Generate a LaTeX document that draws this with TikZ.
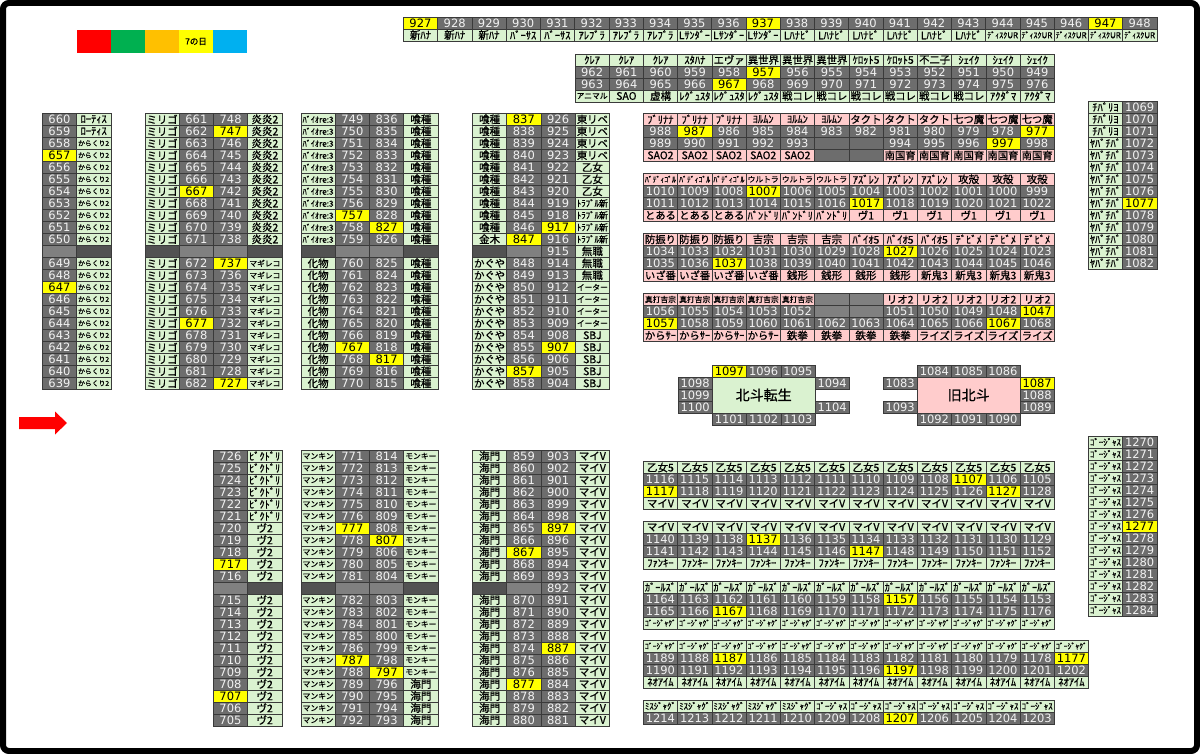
\documentclass[tikz,border=0pt]{standalone}
\usepackage{fontspec}
\usepackage{graphicx}
\newfontfamily\jpf[FakeBold=0.8]{Noto Sans CJK JP}
\newfontfamily\numf{DejaVu Sans}
\definecolor{gnum}{HTML}{6D6D6D}
\definecolor{glight}{HTML}{808080}
\definecolor{gdark}{HTML}{525252}
\definecolor{lgreen}{HTML}{DAF2D0}
\definecolor{lpink}{HTML}{FFCCCC}
\definecolor{yelw}{HTML}{FFFF00}
\definecolor{cellline}{HTML}{3A3A3A}
\definecolor{numtext}{HTML}{F2F2F2}
\definecolor{lgred}{HTML}{FF0000}
\definecolor{lggreen}{HTML}{00B050}
\definecolor{lgorange}{HTML}{FFC000}
\definecolor{lgblue}{HTML}{00B0F0}
\newsavebox\fitbox
\newcommand\fitw[1]{\sbox\fitbox{#1}\ifdim\wd\fitbox>31pt\resizebox{31pt}{!}{\usebox\fitbox}\else\usebox\fitbox\fi}
\newcounter{cellno}
\def\mkY{Y}\def\mkE{E}\def\mkL{L}\def\mkD{D}
\tikzset{
 cell/.style={draw=cellline, line width=0.6pt, inner sep=0pt, outer sep=0pt, anchor=north west},
 num/.style={fill=gnum, text=numtext, font=\numf\fontsize{11.5}{12}\selectfont},
 yelc/.style={fill=yelw, text=black, font=\numf\fontsize{11.5}{12}\selectfont},
 lab/.style={fill=lgreen, text=black, font=\jpf\fontsize{10.5}{11}\selectfont},
 pnk/.style={fill=lpink, text=black, font=\jpf\fontsize{10.5}{11}\selectfont},
 emp/.style={fill=gnum},
 sepl/.style={fill=glight},
 sepd/.style={fill=gdark},
 legendbox/.style={inner sep=0pt, outer sep=0pt, anchor=north west, minimum width=34pt, minimum height=23pt},
 bigbox/.style={cell, minimum width=102.75pt, minimum height=36pt, font=\jpf\fontsize{14}{14}\selectfont},
}
\newcommand\putcell[6]{\stepcounter{cellno}%
 \node[cell,#5,minimum width=#3pt,minimum height=#4pt] (c\arabic{cellno}) at (#1,#2) {#6};}
\newcommand\cellrow[8]{%
 \foreach \t/\s [count=\i from 0] in {#8}{%
   \pgfmathsetmacro\cx{#1+\i*#3}%
   \pgfmathsetmacro\cy{#2+\i*#4}%
   \edef\tmpS{\s}%
   \ifx\tmpS\mkY \putcell{\cx}{\cy}{#5}{#6}{yelc}{\fitw{\t}}%
   \else\ifx\tmpS\mkE \putcell{\cx}{\cy}{#5}{#6}{emp}{}%
   \else\ifx\tmpS\mkL \putcell{\cx}{\cy}{#5}{#6}{sepl}{}%
   \else\ifx\tmpS\mkD \putcell{\cx}{\cy}{#5}{#6}{sepd}{}%
   \else \putcell{\cx}{\cy}{#5}{#6}{#7}{\fitw{\t}}%
   \fi\fi\fi\fi}}
\newcommand\hrow[4]{\cellrow{#1}{#2}{34.25}{0}{34.25}{12}{#3}{#4}}
\newcommand\vrow[4]{\cellrow{#1}{#2}{0}{12}{34.25}{12}{#3}{#4}}
\begin{document}
\begin{tikzpicture}[x=1pt,y=-1pt]
\useasboundingbox (0,0) rectangle (1200,754);
\fill[white] (0,0) rectangle (1200,754);
% legend
\node[legendbox, fill=lgred] (lg1) at (77,30) {};
\node[legendbox, fill=lggreen] (lg2) at (111,30) {};
\node[legendbox, fill=lgorange] (lg3) at (145,30) {};
\node[legendbox, fill=yelw, font=\jpf\fontsize{8.5}{8.5}\selectfont] (lg4) at (179,30) {7の日};
\node[legendbox, fill=lgblue] (lg5) at (213,30) {};
% entrance arrow
\fill[lgred] (19,417) -- (55,417) -- (55,411.5) -- (67,423) -- (55,434.5) -- (55,429) -- (19,429) -- cycle;
% top row
\hrow{403.3}{17}{num}{927/Y,928,929,930,931,932,933,934,935,936,937/Y,938,939,940,941,942,943,944,945,946,947/Y,948}
\hrow{403.3}{29}{lab}{新ﾊﾅ,新ﾊﾅ,新ﾊﾅ,ﾊﾞｰｻｽ,ﾊﾞｰｻｽ,ｱﾚﾌﾞﾗ,ｱﾚﾌﾞﾗ,ｱﾚﾌﾞﾗ,Lｻﾝﾀﾞｰ,Lｻﾝﾀﾞｰ,Lｻﾝﾀﾞｰ,Lﾊﾅﾋﾞ,Lﾊﾅﾋﾞ,Lﾊﾅﾋﾞ,Lﾊﾅﾋﾞ,Lﾊﾅﾋﾞ,Lﾊﾅﾋﾞ,ﾃﾞｨｽｸUR,ﾃﾞｨｽｸUR,ﾃﾞｨｽｸUR,ﾃﾞｨｽｸUR,ﾃﾞｨｽｸUR}
% second top block
\hrow{575}{54}{lab}{ｸﾚｱ,ｸﾚｱ,ｸﾚｱ,ｽﾀﾊﾅ,エヴァ,異世界,異世界,異世界,ｹﾛｯﾄ5,ｹﾛｯﾄ5,不二子,ｼｪｲｸ,ｼｪｲｸ,ｼｪｲｸ}
\hrow{575}{66}{num}{962,961,960,959,958,957/Y,956,955,954,953,952,951,950,949}
\hrow{575}{78}{num}{963,964,965,966,967/Y,968,969,970,971,972,973,974,975,976}
\hrow{575}{90}{lab}{アニマル,SAO,虚構,ﾚｸﾞｭｽﾀ,ﾚｸﾞｭｽﾀ,ﾚｸﾞｭｽﾀ,戦コレ,戦コレ,戦コレ,戦コレ,戦コレ,戦コレ,ｱｸﾀﾞﾏ,ｱｸﾀﾞﾏ}
% column A
\vrow{42.3}{113.3}{num}{660,659,658,657/Y,656,655,654,653,652,651,650,x/L,649,648,647/Y,646,645,644,643,642,641,640,639}
\vrow{76.55}{113.3}{lab}{ﾛｰﾃｨｽ,ﾛｰﾃｨｽ,からくり2,からくり2,からくり2,からくり2,からくり2,からくり2,からくり2,からくり2,からくり2,x/D,からくり2,からくり2,からくり2,からくり2,からくり2,からくり2,からくり2,からくり2,からくり2,からくり2,からくり2}
% column B
\vrow{145}{113.3}{lab}{ミリゴ,ミリゴ,ミリゴ,ミリゴ,ミリゴ,ミリゴ,ミリゴ,ミリゴ,ミリゴ,ミリゴ,ミリゴ,x/D,ミリゴ,ミリゴ,ミリゴ,ミリゴ,ミリゴ,ミリゴ,ミリゴ,ミリゴ,ミリゴ,ミリゴ,ミリゴ}
\vrow{179.25}{113.3}{num}{661,662,663,664,665,666,667/Y,668,669,670,671,x/L,672,673,674,675,676,677/Y,678,679,680,681,682}
\vrow{213.5}{113.3}{num}{748,747/Y,746,745,744,743,742,741,740,739,738,x/L,737/Y,736,735,734,733,732,731,730,729,728,727/Y}
\vrow{247.75}{113.3}{lab}{炎炎2,炎炎2,炎炎2,炎炎2,炎炎2,炎炎2,炎炎2,炎炎2,炎炎2,炎炎2,炎炎2,x/D,マギレコ,マギレコ,マギレコ,マギレコ,マギレコ,マギレコ,マギレコ,マギレコ,マギレコ,マギレコ,マギレコ}
% column C
\vrow{301}{113.3}{lab}{ﾊﾞｲｵre:3,ﾊﾞｲｵre:3,ﾊﾞｲｵre:3,ﾊﾞｲｵre:3,ﾊﾞｲｵre:3,ﾊﾞｲｵre:3,ﾊﾞｲｵre:3,ﾊﾞｲｵre:3,ﾊﾞｲｵre:3,ﾊﾞｲｵre:3,ﾊﾞｲｵre:3,x/D,化物,化物,化物,化物,化物,化物,化物,化物,化物,化物,化物}
\vrow{335.25}{113.3}{num}{749,750,751,752,753,754,755,756,757/Y,758,759,x/L,760,761,762,763,764,765,766,767/Y,768,769,770}
\vrow{369.5}{113.3}{num}{836,835,834,833,832,831,830,829,828,827/Y,826,x/L,825,824,823,822,821,820,819,818,817/Y,816,815}
\vrow{403.75}{113.3}{lab}{喰種,喰種,喰種,喰種,喰種,喰種,喰種,喰種,喰種,喰種,喰種,x/D,喰種,喰種,喰種,喰種,喰種,喰種,喰種,喰種,喰種,喰種,喰種}
% column D
\vrow{472.5}{113.3}{lab}{喰種,喰種,喰種,喰種,喰種,喰種,喰種,喰種,喰種,喰種,金木,x/D,かぐや,かぐや,かぐや,かぐや,かぐや,かぐや,かぐや,かぐや,かぐや,かぐや,かぐや}
\vrow{506.75}{113.3}{num}{837/Y,838,839,840,841,842,843,844,845,846,847/Y,x/L,848,849,850,851,852,853,854,855,856,857/Y,858}
\vrow{541}{113.3}{num}{926,925,924,923,922,921,920,919,918,917/Y,916,915,914,913,912,911,910,909,908,907/Y,906,905,904}
\vrow{575.25}{113.3}{lab}{東リベ,東リベ,東リベ,東リベ,乙女,乙女,乙女,ﾄﾗﾌﾞﾙ新,ﾄﾗﾌﾞﾙ新,ﾄﾗﾌﾞﾙ新,ﾄﾗﾌﾞﾙ新,無職,無職,無職,イーター,イーター,イーター,イーター,SBJ,SBJ,SBJ,SBJ,SBJ}
% pink blocks
\hrow{643.3}{113.3}{pnk}{ﾌﾞﾘﾅﾅ,ﾌﾞﾘﾅﾅ,ﾌﾞﾘﾅﾅ,ﾖﾙﾑﾝ,ﾖﾙﾑﾝ,ﾖﾙﾑﾝ,タクト,タクト,タクト,七つ魔,七つ魔,七つ魔}
\hrow{643.3}{125.3}{num}{988,987/Y,986,985,984,983,982,981,980,979,978,977/Y}
\hrow{643.3}{137.3}{num}{989,990,991,992,993,x/E,x/E,994,995,996,997/Y,998}
\hrow{643.3}{149.3}{pnk}{SAO2,SAO2,SAO2,SAO2,SAO2,x/E,x/E,南国育,南国育,南国育,南国育,南国育}
\hrow{643.3}{173.3}{pnk}{ﾊﾞﾃﾞｨｺﾞﾙ,ﾊﾞﾃﾞｨｺﾞﾙ,ﾊﾞﾃﾞｨｺﾞﾙ,ウルトラ,ウルトラ,ウルトラ,ｱｽﾞﾚﾝ,ｱｽﾞﾚﾝ,ｱｽﾞﾚﾝ,攻殻,攻殻,攻殻}
\hrow{643.3}{185.3}{num}{1010,1009,1008,1007/Y,1006,1005,1004,1003,1002,1001,1000,999}
\hrow{643.3}{197.3}{num}{1011,1012,1013,1014,1015,1016,1017/Y,1018,1019,1020,1021,1022}
\hrow{643.3}{209.3}{pnk}{とある,とある,とある,ﾊﾞﾝﾄﾞﾘ,ﾊﾞﾝﾄﾞﾘ,ﾊﾞﾝﾄﾞﾘ,ヴ1,ヴ1,ヴ1,ヴ1,ヴ1,ヴ1}
\hrow{643.3}{233.3}{pnk}{防振り,防振り,防振り,吉宗,吉宗,吉宗,ﾊﾞｲｵ5,ﾊﾞｲｵ5,ﾊﾞｲｵ5,ﾃﾞﾋﾞﾒ,ﾃﾞﾋﾞﾒ,ﾃﾞﾋﾞﾒ}
\hrow{643.3}{245.3}{num}{1034,1033,1032,1031,1030,1029,1028,1027/Y,1026,1025,1024,1023}
\hrow{643.3}{257.3}{num}{1035,1036,1037/Y,1038,1039,1040,1041,1042,1043,1044,1045,1046}
\hrow{643.3}{269.3}{pnk}{いざ番,いざ番,いざ番,いざ番,銭形,銭形,銭形,銭形,新鬼3,新鬼3,新鬼3,新鬼3}
\hrow{643.3}{293.5}{pnk}{真打吉宗,真打吉宗,真打吉宗,真打吉宗,真打吉宗,x/L,x/L,リオ2,リオ2,リオ2,リオ2,リオ2}
\hrow{643.3}{305.5}{num}{1056,1055,1054,1053,1052,x/L,x/L,1051,1050,1049,1048,1047/Y}
\hrow{643.3}{317.5}{num}{1057/Y,1058,1059,1060,1061,1062,1063,1064,1065,1066,1067/Y,1068}
\hrow{643.3}{329.5}{pnk}{からｻｰ,からｻｰ,からｻｰ,からｻｰ,鉄拳,鉄拳,鉄拳,鉄拳,ライズ,ライズ,ライズ,ライズ}
% right column top
\vrow{1088.3}{101}{lab}{ﾁﾊﾞﾘﾖ,ﾁﾊﾞﾘﾖ,ﾁﾊﾞﾘﾖ,ﾔﾊﾞﾁﾊﾞ,ﾔﾊﾞﾁﾊﾞ,ﾔﾊﾞﾁﾊﾞ,ﾔﾊﾞﾁﾊﾞ,ﾔﾊﾞﾁﾊﾞ,ﾔﾊﾞﾁﾊﾞ,ﾔﾊﾞﾁﾊﾞ,ﾔﾊﾞﾁﾊﾞ,ﾔﾊﾞﾁﾊﾞ,ﾔﾊﾞﾁﾊﾞ,ﾔﾊﾞﾁﾊﾞ}
\vrow{1122.55}{101}{num}{1069,1070,1071,1072,1073,1074,1075,1076,1077/Y,1078,1079,1080,1081,1082}
% hokuto tensei island
\hrow{712.3}{365}{num}{1097/Y,1096,1095}
\vrow{678.05}{377}{num}{1098,1099,1100}
\node[bigbox, fill=lgreen] (hk1) at (712.3,377) {北斗転生};
\hrow{815.05}{377}{num}{1094}
\hrow{815.05}{401}{num}{1104}
\hrow{712.3}{413}{num}{1101,1102,1103}
% old hokuto island
\hrow{917.3}{365}{num}{1084,1085,1086}
\hrow{883.05}{377}{num}{1083}
\hrow{883.05}{401}{num}{1093}
\node[bigbox, fill=lpink] (hk2) at (917.3,377) {旧北斗};
\vrow{1020.05}{377}{num}{1087/Y,1088,1089}
\hrow{917.3}{413}{num}{1092,1091,1090}
% column E
\vrow{213.3}{450}{num}{726,725,724,723,722,721,720,719,718,717/Y,716,x/L,715,714,713,712,711,710,709,708,707/Y,706,705}
\vrow{247.55}{450}{lab}{ﾋﾞｸﾄﾞﾘ,ﾋﾞｸﾄﾞﾘ,ﾋﾞｸﾄﾞﾘ,ﾋﾞｸﾄﾞﾘ,ﾋﾞｸﾄﾞﾘ,ﾋﾞｸﾄﾞﾘ,ヴ2,ヴ2,ヴ2,ヴ2,ヴ2,x/D,ヴ2,ヴ2,ヴ2,ヴ2,ヴ2,ヴ2,ヴ2,ヴ2,ヴ2,ヴ2,ヴ2}
% column F
\vrow{301}{450}{lab}{マンキン,マンキン,マンキン,マンキン,マンキン,マンキン,マンキン,マンキン,マンキン,マンキン,マンキン,x/D,マンキン,マンキン,マンキン,マンキン,マンキン,マンキン,マンキン,マンキン,マンキン,マンキン,マンキン}
\vrow{335.25}{450}{num}{771,772,773,774,775,776,777/Y,778,779,780,781,x/L,782,783,784,785,786,787/Y,788,789,790,791,792}
\vrow{369.5}{450}{num}{814,813,812,811,810,809,808,807/Y,806,805,804,x/L,803,802,801,800,799,798,797/Y,796,795,794,793}
\vrow{403.75}{450}{lab}{モンキー,モンキー,モンキー,モンキー,モンキー,モンキー,モンキー,モンキー,モンキー,モンキー,モンキー,x/D,モンキー,モンキー,モンキー,モンキー,モンキー,モンキー,モンキー,海門,海門,海門,海門}
% column G
\vrow{472.5}{450}{lab}{海門,海門,海門,海門,海門,海門,海門,海門,海門,海門,海門,x/D,海門,海門,海門,海門,海門,海門,海門,海門,海門,海門,海門}
\vrow{506.75}{450}{num}{859,860,861,862,863,864,865,866,867/Y,868,869,x/L,870,871,872,873,874,875,876,877/Y,878,879,880}
\vrow{541}{450}{num}{903,902,901,900,899,898,897/Y,896,895,894,893,892,891,890,889,888,887/Y,886,885,884,883,882,881}
\vrow{575.25}{450}{lab}{マイV,マイV,マイV,マイV,マイV,マイV,マイV,マイV,マイV,マイV,マイV,マイV,マイV,マイV,マイV,マイV,マイV,マイV,マイV,マイV,マイV,マイV,マイV}
% green blocks
\hrow{643.3}{461.5}{lab}{乙女5,乙女5,乙女5,乙女5,乙女5,乙女5,乙女5,乙女5,乙女5,乙女5,乙女5,乙女5}
\hrow{643.3}{473.5}{num}{1116,1115,1114,1113,1112,1111,1110,1109,1108,1107/Y,1106,1105}
\hrow{643.3}{485.5}{num}{1117/Y,1118,1119,1120,1121,1122,1123,1124,1125,1126,1127/Y,1128}
\hrow{643.3}{497.5}{lab}{マイV,マイV,マイV,マイV,マイV,マイV,マイV,マイV,マイV,マイV,マイV,マイV}
\hrow{643.3}{521}{lab}{マイV,マイV,マイV,マイV,マイV,マイV,マイV,マイV,マイV,マイV,マイV,マイV}
\hrow{643.3}{533}{num}{1140,1139,1138,1137/Y,1136,1135,1134,1133,1132,1131,1130,1129}
\hrow{643.3}{545}{num}{1141,1142,1143,1144,1145,1146,1147/Y,1148,1149,1150,1151,1152}
\hrow{643.3}{557}{lab}{ﾌｧﾝｷｰ,ﾌｧﾝｷｰ,ﾌｧﾝｷｰ,ﾌｧﾝｷｰ,ﾌｧﾝｷｰ,ﾌｧﾝｷｰ,ﾌｧﾝｷｰ,ﾌｧﾝｷｰ,ﾌｧﾝｷｰ,ﾌｧﾝｷｰ,ﾌｧﾝｷｰ,ﾌｧﾝｷｰ}
\hrow{643.3}{581}{lab}{ｶﾞｰﾙｽﾞ,ｶﾞｰﾙｽﾞ,ｶﾞｰﾙｽﾞ,ｶﾞｰﾙｽﾞ,ｶﾞｰﾙｽﾞ,ｶﾞｰﾙｽﾞ,ｶﾞｰﾙｽﾞ,ｶﾞｰﾙｽﾞ,ｶﾞｰﾙｽﾞ,ｶﾞｰﾙｽﾞ,ｶﾞｰﾙｽﾞ,ｶﾞｰﾙｽﾞ}
\hrow{643.3}{593}{num}{1164,1163,1162,1161,1160,1159,1158,1157/Y,1156,1155,1154,1153}
\hrow{643.3}{605}{num}{1165,1166,1167/Y,1168,1169,1170,1171,1172,1173,1174,1175,1176}
\hrow{643.3}{617}{lab}{ｺﾞｰｼﾞｬｸﾞ,ｺﾞｰｼﾞｬｸﾞ,ｺﾞｰｼﾞｬｸﾞ,ｺﾞｰｼﾞｬｸﾞ,ｺﾞｰｼﾞｬｸﾞ,ｺﾞｰｼﾞｬｸﾞ,ｺﾞｰｼﾞｬｸﾞ,ｺﾞｰｼﾞｬｸﾞ,ｺﾞｰｼﾞｬｸﾞ,ｺﾞｰｼﾞｬｸﾞ,ｺﾞｰｼﾞｬｸﾞ,ｺﾞｰｼﾞｬｸﾞ}
\hrow{643.3}{640}{lab}{ｺﾞｰｼﾞｬｸﾞ,ｺﾞｰｼﾞｬｸﾞ,ｺﾞｰｼﾞｬｸﾞ,ｺﾞｰｼﾞｬｸﾞ,ｺﾞｰｼﾞｬｸﾞ,ｺﾞｰｼﾞｬｸﾞ,ｺﾞｰｼﾞｬｸﾞ,ｺﾞｰｼﾞｬｸﾞ,ｺﾞｰｼﾞｬｸﾞ,ｺﾞｰｼﾞｬｸﾞ,ｺﾞｰｼﾞｬｸﾞ,ｺﾞｰｼﾞｬｸﾞ,ｺﾞｰｼﾞｬｸﾞ}
\hrow{643.3}{652}{num}{1189,1188,1187/Y,1186,1185,1184,1183,1182,1181,1180,1179,1178,1177/Y}
\hrow{643.3}{664}{num}{1190,1191,1192,1193,1194,1195,1196,1197/Y,1198,1199,1200,1201,1202}
\hrow{643.3}{676}{lab}{ﾈｵｱｲﾑ,ﾈｵｱｲﾑ,ﾈｵｱｲﾑ,ﾈｵｱｲﾑ,ﾈｵｱｲﾑ,ﾈｵｱｲﾑ,ﾈｵｱｲﾑ,ﾈｵｱｲﾑ,ﾈｵｱｲﾑ,ﾈｵｱｲﾑ,ﾈｵｱｲﾑ,ﾈｵｱｲﾑ,ﾈｵｱｲﾑ}
\hrow{643.3}{700}{lab}{ﾐｽｼﾞｬｸﾞ,ﾐｽｼﾞｬｸﾞ,ﾐｽｼﾞｬｸﾞ,ﾐｽｼﾞｬｸﾞ,ﾐｽｼﾞｬｸﾞ,ｺﾞｰｼﾞｬｽ,ｺﾞｰｼﾞｬｽ,ｺﾞｰｼﾞｬｽ,ｺﾞｰｼﾞｬｽ,ｺﾞｰｼﾞｬｽ,ｺﾞｰｼﾞｬｽ,ｺﾞｰｼﾞｬｽ}
\hrow{643.3}{712}{num}{1214,1213,1212,1211,1210,1209,1208,1207/Y,1206,1205,1204,1203}
% right column bottom
\vrow{1088.3}{436}{lab}{ｺﾞｰｼﾞｬｽ,ｺﾞｰｼﾞｬｽ,ｺﾞｰｼﾞｬｽ,ｺﾞｰｼﾞｬｽ,ｺﾞｰｼﾞｬｽ,ｺﾞｰｼﾞｬｽ,ｺﾞｰｼﾞｬｽ,ｺﾞｰｼﾞｬｽ,ｺﾞｰｼﾞｬｽ,ｺﾞｰｼﾞｬｽ,ｺﾞｰｼﾞｬｽ,ｺﾞｰｼﾞｬｽ,ｺﾞｰｼﾞｬｽ,ｺﾞｰｼﾞｬｽ,ｺﾞｰｼﾞｬｽ}
\vrow{1122.55}{436}{num}{1270,1271,1272,1273,1274,1275,1276,1277/Y,1278,1279,1280,1281,1282,1283,1284}
% outer frame
\draw[line width=6pt, rounded corners=6pt] (3,3) rectangle (1197,751);
\end{tikzpicture}
\end{document}
